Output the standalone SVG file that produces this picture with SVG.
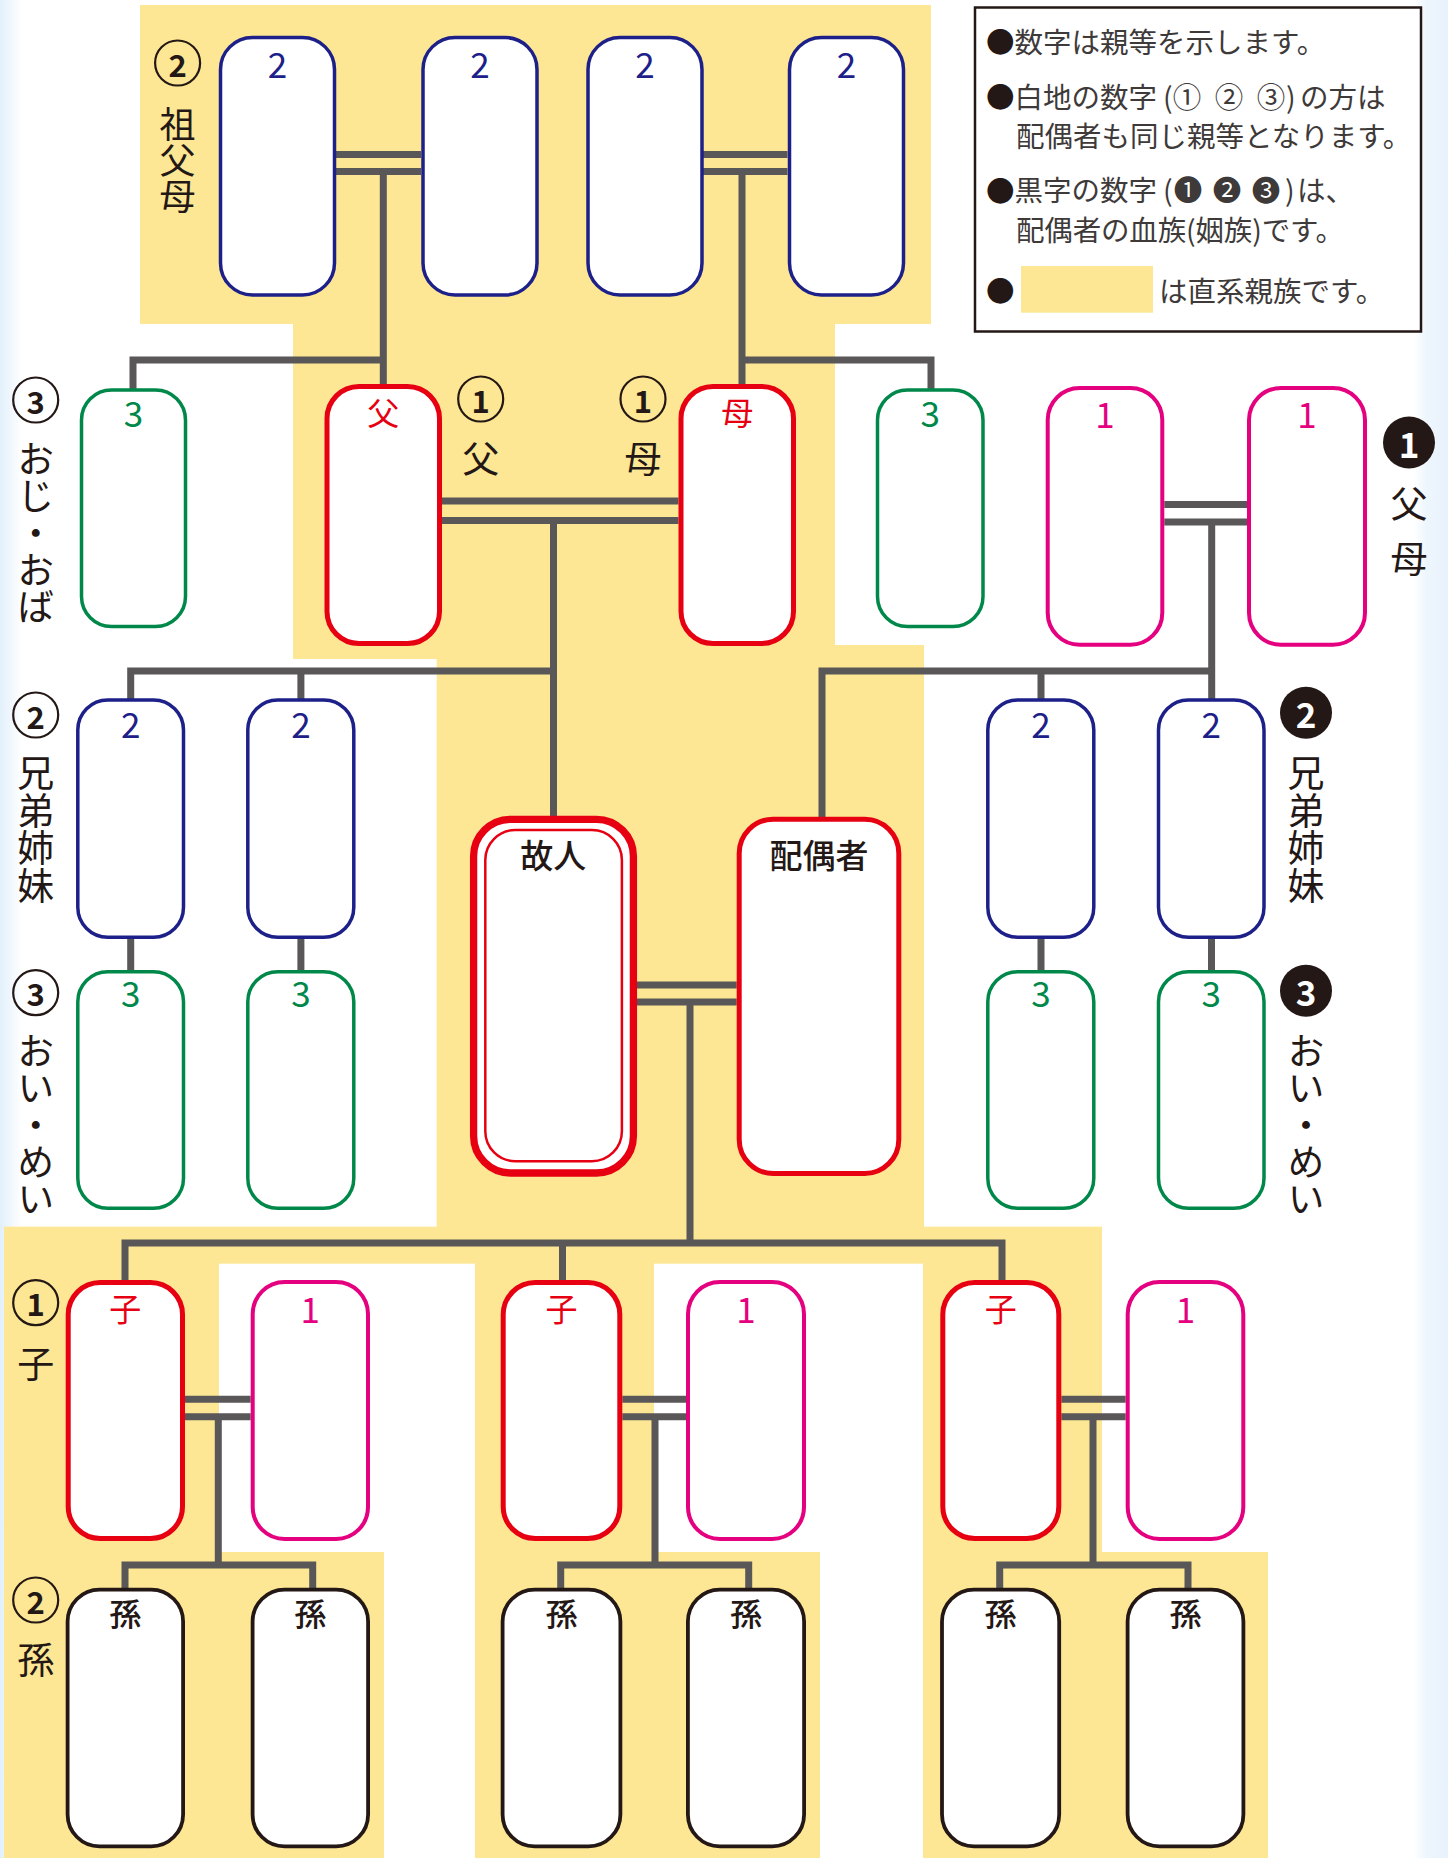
<svg xmlns="http://www.w3.org/2000/svg" width="1448" height="1858" viewBox="0 0 1448 1858">
<defs>
<linearGradient id="gl" x1="0" y1="0" x2="1" y2="0"><stop offset="0" stop-color="#e2f0fb"/><stop offset="1" stop-color="#ffffff"/></linearGradient>
<linearGradient id="gr" x1="0" y1="0" x2="1" y2="0"><stop offset="0" stop-color="#ffffff"/><stop offset="0.35" stop-color="#eef6fd"/><stop offset="1" stop-color="#e8f2fc"/></linearGradient>
<style>
text{font-family:"Noto Sans CJK JP","Noto Sans",sans-serif;dominant-baseline:central;text-anchor:middle}
.bg{fill:#fde794}
.navy{fill:#fff;stroke:#1d2088;stroke-width:3.5}
.green{fill:#fff;stroke:#00884a;stroke-width:3.5}
.red{fill:#fff;stroke:#e60012;stroke-width:5}
.pink{fill:#fff;stroke:#e4007f;stroke-width:4}
.blk{fill:#fff;stroke:#231815;stroke-width:3.8}
.ln{fill:none;stroke:#595757;stroke-width:7;stroke-linejoin:miter}
.tn{fill:#1d2088;font-size:35px}
.tg{fill:#00884a;font-size:35px}
.tp{fill:#e4007f;font-size:35px}
.tr{fill:#e60012;font-size:32px}
.tk{fill:#231815;font-size:32px;font-weight:500}
.tb{fill:#231815;font-size:33px;font-weight:500}
.vl{fill:#231815;font-size:37px}
.vt{fill:#231815;font-size:37px;writing-mode:vertical-rl;text-anchor:start}
.co{fill:none;stroke:#231815;stroke-width:2.2}
.cd{fill:#231815;font-size:31px;font-weight:bold}
.cf{fill:#231815}
.cw{fill:#fff;font-size:35px;font-weight:bold}
.lg{fill:#3e3a39;font-size:28.5px;text-anchor:start}
.bu{fill:#231815}
</style>
</defs>
<rect x="0" y="0" width="1448" height="1858" fill="#fff"/>
<rect x="0" y="0" width="22" height="1858" fill="url(#gl)"/>
<rect x="1414" y="0" width="34" height="1858" fill="url(#gr)"/>

<g id="background">
<rect class="bg" x="140" y="5" width="791" height="319"/>
<rect class="bg" x="293" y="323" width="542" height="336"/>
<rect class="bg" x="436.7" y="645" width="487.3" height="582"/>
<rect class="bg" x="4" y="1226.7" width="1098" height="37"/>
<rect class="bg" x="4" y="1263" width="215" height="595"/>
<rect class="bg" x="4" y="1552" width="380" height="306"/>
<rect class="bg" x="475" y="1263" width="179" height="595"/>
<rect class="bg" x="475" y="1552" width="345" height="306"/>
<rect class="bg" x="923" y="1263" width="179" height="595"/>
<rect class="bg" x="923" y="1552" width="345" height="306"/>
</g>

<g id="legend">
<rect x="975" y="7.5" width="446" height="324" fill="#fff" stroke="#231815" stroke-width="2.5"/>
<text class="lg" x="986" y="40"><tspan class="bu">●</tspan>数字は親等を示します。</text>
<text class="lg" x="986" y="95"><tspan class="bu">●</tspan>白地の数字</text>
<text class="lg" x="1163" y="95">(</text>
<text class="lg" x="1187" y="95" style="text-anchor:middle">①</text>
<text class="lg" x="1229" y="95" style="text-anchor:middle">②</text>
<text class="lg" x="1271" y="95" style="text-anchor:middle">③</text>
<text class="lg" x="1286" y="95">)</text>
<text class="lg" x="1300" y="95">の方は</text>
<text class="lg" x="1016" y="134">配偶者も同じ親等となります。</text>
<text class="lg" x="986" y="188.5"><tspan class="bu">●</tspan>黒字の数字</text>
<text class="lg" x="1163" y="188.5">(</text>
<text class="lg" x="1188" y="188.5" style="text-anchor:middle">❶</text>
<text class="lg" x="1227" y="188.5" style="text-anchor:middle">❷</text>
<text class="lg" x="1266" y="188.5" style="text-anchor:middle">❸</text>
<text class="lg" x="1285" y="188.5">)</text>
<text class="lg" x="1297" y="188.5">は、</text>
<text class="lg" x="1016" y="228.5" textLength="328" lengthAdjust="spacing">配偶者の血族(姻族)です。</text>
<text class="lg bu" x="986" y="289.6">●</text>
<rect x="1021" y="266" width="132" height="46.7" fill="#fde794"/>
<text class="lg" x="1159" y="289.6">は直系親族です。</text>
</g>

<g id="connectors">
<path class="ln" d="M336 154.5H421M336 171.5H421M703 154.5H787.5M703 171.5H787.5"/>
<path class="ln" d="M383.3 171.5V386.5M133 390V360H386.8M742 171.5V386.5M738.5 360H931V390"/>
<path class="ln" d="M442 501H678.5M442 520.5H678.5M553.5 520.5V819"/>
<path class="ln" d="M1164.3 504.5H1247M1164.3 522H1247M1211.7 522V700"/>
<path class="ln" d="M130.7 700V671H557M300.9 671V700"/>
<path class="ln" d="M822 819V671H1215M1041 671V700"/>
<path class="ln" d="M130.7 939V972M300.9 939V972M1041 939V972M1211.5 939V972"/>
<path class="ln" d="M637 985H736.7M637 1002H736.7M690 1002V1243"/>
<path class="ln" d="M125 1282V1243H1002V1282M562.5 1243V1282"/>
<path class="ln" d="M185 1399.3H250.7M185 1416.7H250.7M622.3 1399.3H686M622.3 1416.7H686M1061.3 1399.3H1125.7M1061.3 1416.7H1125.7"/>
<path class="ln" d="M218.3 1416.7V1565M125 1590V1565H312.7V1590"/>
<path class="ln" d="M655 1416.7V1565M560.7 1590V1565H748.7V1590"/>
<path class="ln" d="M1093 1416.7V1565M999.7 1590V1565H1188V1590"/>
</g>

<g id="gp1"><rect class="navy" x="220.5" y="37.5" width="114" height="257.5" rx="32"/><text class="tn" x="277.5" y="62">2</text></g>
<g id="gp2"><rect class="navy" x="423" y="37.5" width="114" height="257.5" rx="32"/><text class="tn" x="480" y="62">2</text></g>
<g id="gp3"><rect class="navy" x="588" y="37.5" width="114" height="257.5" rx="32"/><text class="tn" x="645" y="62">2</text></g>
<g id="gp4"><rect class="navy" x="789.5" y="37.5" width="114" height="257.5" rx="32"/><text class="tn" x="846.5" y="62">2</text></g>

<g id="uncle-left"><rect class="green" x="81.5" y="390" width="104" height="236.5" rx="30"/><text class="tg" x="133.5" y="411.5">3</text></g>
<g id="father"><rect class="red" x="327" y="386.5" width="112.5" height="257" rx="32"/><text class="tr" x="383.3" y="410.5">父</text></g>
<g id="mother"><rect class="red" x="681" y="386.5" width="112.5" height="257" rx="32"/><text class="tr" x="737.3" y="410.5">母</text></g>
<g id="uncle-right"><rect class="green" x="877.5" y="390" width="105.5" height="236.5" rx="30"/><text class="tg" x="930.2" y="411.5">3</text></g>
<g id="inlaw-father"><rect class="pink" x="1047.7" y="388" width="114.6" height="256.7" rx="32"/><text class="tp" x="1105" y="412">1</text></g>
<g id="inlaw-mother"><rect class="pink" x="1249" y="388" width="116" height="256.7" rx="32"/><text class="tp" x="1307" y="412">1</text></g>

<g id="sib-l1"><rect class="navy" x="77.8" y="700" width="105.7" height="237.3" rx="30"/><text class="tn" x="130.7" y="722">2</text></g>
<g id="sib-l2"><rect class="navy" x="247.8" y="700" width="106" height="237.3" rx="30"/><text class="tn" x="300.9" y="722">2</text></g>
<g id="sib-r1"><rect class="navy" x="987.8" y="700" width="106" height="237.3" rx="30"/><text class="tn" x="1040.9" y="722">2</text></g>
<g id="sib-r2"><rect class="navy" x="1158.5" y="700" width="105.5" height="237.3" rx="30"/><text class="tn" x="1211.2" y="722">2</text></g>

<g id="neph-l1"><rect class="green" x="77.8" y="971.8" width="105.7" height="236.4" rx="30"/><text class="tg" x="130.7" y="991">3</text></g>
<g id="neph-l2"><rect class="green" x="247.8" y="971.8" width="106" height="236.4" rx="30"/><text class="tg" x="300.9" y="991">3</text></g>
<g id="neph-r1"><rect class="green" x="987.8" y="971.8" width="106" height="236.4" rx="30"/><text class="tg" x="1040.9" y="991">3</text></g>
<g id="neph-r2"><rect class="green" x="1158.5" y="971.8" width="105.5" height="236.4" rx="30"/><text class="tg" x="1211.2" y="991">3</text></g>

<g id="deceased">
<rect x="473.6" y="819.3" width="159.8" height="353.7" rx="37" fill="#fff" stroke="#e60012" stroke-width="7.3"/>
<rect x="485.3" y="830" width="136.6" height="331.2" rx="30" fill="#fff" stroke="#e60012" stroke-width="2.5"/>
<text class="tb" x="553.3" y="854">故人</text>
</g>
<g id="spouse">
<rect class="red" x="739.2" y="819.2" width="159.6" height="354.3" rx="34"/>
<text class="tb" x="819" y="854">配偶者</text>
</g>

<g id="child1"><rect class="red" x="68.2" y="1282.5" width="114.3" height="256" rx="32"/><text class="tr" x="125.3" y="1307">子</text></g>
<g id="child1-spouse"><rect class="pink" x="252.7" y="1282" width="115.3" height="257" rx="32"/><text class="tp" x="310.3" y="1307">1</text></g>
<g id="child2"><rect class="red" x="503.2" y="1282.5" width="116.6" height="256" rx="32"/><text class="tr" x="561.5" y="1307">子</text></g>
<g id="child2-spouse"><rect class="pink" x="688" y="1282" width="116" height="257" rx="32"/><text class="tp" x="746" y="1307">1</text></g>
<g id="child3"><rect class="red" x="942.8" y="1282.5" width="116" height="256" rx="32"/><text class="tr" x="1000.8" y="1307">子</text></g>
<g id="child3-spouse"><rect class="pink" x="1127.7" y="1282" width="115.6" height="257" rx="32"/><text class="tp" x="1185.5" y="1307">1</text></g>

<g id="gc1"><rect class="blk" x="67.6" y="1589.6" width="115.5" height="256.8" rx="32"/><text class="tk" x="125.3" y="1612">孫</text></g>
<g id="gc2"><rect class="blk" x="252.6" y="1589.6" width="115.5" height="256.8" rx="32"/><text class="tk" x="310.3" y="1612">孫</text></g>
<g id="gc3"><rect class="blk" x="502.6" y="1589.6" width="117.8" height="256.8" rx="32"/><text class="tk" x="561.5" y="1612">孫</text></g>
<g id="gc4"><rect class="blk" x="687.9" y="1589.6" width="116.2" height="256.8" rx="32"/><text class="tk" x="746" y="1612">孫</text></g>
<g id="gc5"><rect class="blk" x="942" y="1589.6" width="117.2" height="256.8" rx="32"/><text class="tk" x="1000.6" y="1612">孫</text></g>
<g id="gc6"><rect class="blk" x="1127.6" y="1589.6" width="115.8" height="256.8" rx="32"/><text class="tk" x="1185.5" y="1612">孫</text></g>

<g id="label-grandparents">
<circle class="co" cx="177.6" cy="63" r="22.5"/><text class="cd" x="177.6" y="63">2</text>
<text class="vt" x="177.6" y="106" style="font-size:36px">祖父母</text>
</g>
<g id="label-uncle">
<circle class="co" cx="35.7" cy="400" r="22.5"/><text class="cd" x="35.7" y="400">3</text>
<text class="vt" x="35.7" y="440.5">おじ・おば</text>
</g>
<g id="label-father">
<circle class="co" cx="480.7" cy="399" r="22.5"/><text class="cd" x="480.7" y="399">1</text>
<text class="vl" x="480.7" y="457">父</text>
</g>
<g id="label-mother">
<circle class="co" cx="643" cy="399" r="22.5"/><text class="cd" x="643" y="399">1</text>
<text class="vl" x="643" y="457">母</text>
</g>
<g id="label-inlaw-parents">
<circle class="cf" cx="1409" cy="442.5" r="26"/><text class="cw" x="1409" y="442.5">1</text>
<text class="vt" x="1409" y="485.5" style="letter-spacing:18px">父母</text>
</g>
<g id="label-siblings-left">
<circle class="co" cx="35.7" cy="715" r="22.5"/><text class="cd" x="35.7" y="715">2</text>
<text class="vt" x="35.7" y="754.5" style="letter-spacing:0.7px">兄弟姉妹</text>
</g>
<g id="label-nephews-left">
<circle class="co" cx="35.7" cy="992.7" r="22.5"/><text class="cd" x="35.7" y="992.7">3</text>
<text class="vt" x="35.7" y="1032.5">おい・めい</text>
</g>
<g id="label-siblings-right">
<circle class="cf" cx="1306" cy="712.7" r="26"/><text class="cw" x="1306" y="712.7">2</text>
<text class="vt" x="1306" y="754.5" style="letter-spacing:0.7px">兄弟姉妹</text>
</g>
<g id="label-nephews-right">
<circle class="cf" cx="1306" cy="990.7" r="26"/><text class="cw" x="1306" y="990.7">3</text>
<text class="vt" x="1306" y="1032.5">おい・めい</text>
</g>
<g id="label-children">
<circle class="co" cx="35.7" cy="1302.7" r="22.5"/><text class="cd" x="35.7" y="1302.7">1</text>
<text class="vl" x="35.7" y="1361.7">子</text>
</g>
<g id="label-grandchildren">
<circle class="co" cx="35.7" cy="1600" r="22.5"/><text class="cd" x="35.7" y="1600">2</text>
<text class="vl" x="35.7" y="1658">孫</text>
</g>
</svg>
